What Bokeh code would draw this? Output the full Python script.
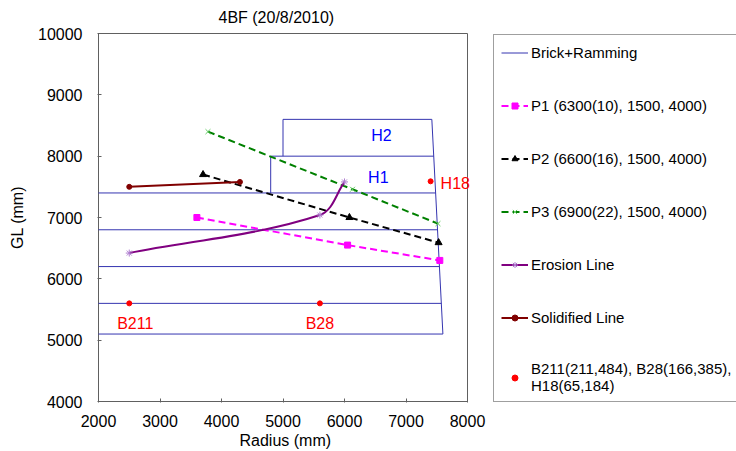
import math
from bokeh.plotting import figure
from bokeh.models import (Legend, LegendItem, Label, Range1d, FixedTicker,
                          NumeralTickFormatter, ColumnDataSource, Title)
from bokeh.embed import file_html
from bokeh.resources import INLINE

# ---------------- data ----------------
x_lo, x_hi = 2000, 8000
y_lo, y_hi = 4000, 10000
x_ticks = [2000, 3000, 4000, 5000, 6000, 7000, 8000]
y_ticks = [4000, 5000, 6000, 7000, 8000, 9000, 10000]

# Brick + Ramming outline (polylines)
brick_xs = [[2000, 7600, 7420, 5000, 5000],
            [4800, 4800, 7451],
            [2000, 7482],
            [2000, 7513],
            [2000, 7543],
            [2000, 7574]]
brick_ys = [[5100, 5100, 8600, 8600, 8000],
            [7400, 8000, 8000],
            [7400, 7400],
            [6800, 6800],
            [6200, 6200],
            [5600, 5600]]

p1_x = [3600, 6050, 7550]
p1_y = [7000, 6550, 6300]
p2_x = [3700, 6080, 7530]
p2_y = [7700, 7000, 6590]
p3_x = [3780, 6130, 7520]
p3_y = [8400, 7460, 6900]
ero_x = [2500, 5600, 6000]
ero_y = [6420, 7040, 7580]
sol_x = [2500, 4300]
sol_y = [7500, 7580]
pt_x = [2500, 5600, 7400]
pt_y = [5600, 5600, 7590]
pt_names = ["B211", "B28", "H18"]
zone_names = ["H1", "H2"]
zone_x = [6550, 6600]
zone_y = [7650, 8330]

labels = ["Brick+Ramming",
          "P1 (6300(10), 1500, 4000)",
          "P2 (6600(16), 1500, 4000)",
          "P3 (6900(22), 1500, 4000)",
          "Erosion Line",
          "Solidified Line",
          "B211(211,484), B28(166,385),\nH18(65,184)"]

FONT = "Liberation Sans"
BRICK = "#3535b0"
FRAME_COLOR = "#606060"

# layout (pixels)
W, H = 736, 451
BORDER_L, BORDER_T, BORDER_B = 97, 32, 49
BOX_W, BOX_H = 369, 368          # size of the data box in pixels
FRAME_W, FRAME_H = W - BORDER_L, H - BORDER_T - BORDER_B

mx = (x_hi - x_lo) / BOX_W       # mm per px
my = (y_hi - y_lo) / BOX_H
x_start = x_lo - mx
y_start = y_lo - my

p = figure(width=W, height=H, frame_width=FRAME_W, frame_height=FRAME_H,
           min_border_left=BORDER_L, min_border_right=0,
           min_border_top=BORDER_T, min_border_bottom=BORDER_B,
           x_range=Range1d(x_start, x_start + FRAME_W * mx),
           y_range=Range1d(y_start, y_start + FRAME_H * my),
           output_backend="svg", toolbar_location=None)
p.background_fill_color = "white"
p.border_fill_color = "white"
p.outline_line_color = None
p.xgrid.visible = False
p.ygrid.visible = False

title = Title(text="4BF (20/8/2010)", align="left", offset=121, standoff=13,
              text_font=FONT, text_font_size="16px", text_font_style="normal",
              text_color="black")
p.add_layout(title, "above")

for ax, ticks in ((p.xaxis[0], x_ticks), (p.yaxis[0], y_ticks)):
    ax.ticker = FixedTicker(ticks=ticks)
    ax.formatter = NumeralTickFormatter(format="0")
    ax.major_label_text_font = FONT
    ax.major_label_text_font_size = "16px"
    ax.major_label_text_color = "black"
    ax.major_tick_in = 4
    ax.major_tick_out = 0
    ax.minor_tick_line_color = None
    ax.axis_line_color = None
    ax.major_tick_line_color = FRAME_COLOR
p.xaxis[0].major_label_standoff = 12
p.yaxis[0].major_label_standoff = 15
p.yaxis[0].axis_label = "GL (mm)"
p.yaxis[0].axis_label_text_font = FONT
p.yaxis[0].axis_label_text_font_size = "16px"
p.yaxis[0].axis_label_text_font_style = "normal"
p.yaxis[0].axis_label_text_color = "black"
p.yaxis[0].axis_label_standoff = 9

xlabel = Title(text="Radius (mm)", align="left", offset=142, standoff=1,
               text_font=FONT, text_font_size="16px", text_font_style="normal",
               text_color="black")
p.add_layout(xlabel, "below")

# plot box
p.quad(left=[x_lo], right=[x_hi], bottom=[y_lo], top=[y_hi],
       fill_color=None, line_color=FRAME_COLOR, line_width=1)

# Brick + Ramming
r_brick = p.multi_line(xs=brick_xs, ys=brick_ys, line_color=BRICK, line_width=1)

# P1, P2, P3
dash = "7 4"
r_p1l = p.line(p1_x, p1_y, line_color="#ff00ff", line_width=2, line_dash=dash)
r_p1m = p.scatter(p1_x, p1_y, marker="square", size=6, fill_color="#ff00ff", line_color="#ff00ff")
r_p2l = p.line(p2_x, p2_y, line_color="black", line_width=2, line_dash=dash)
r_p2m = p.scatter(p2_x, p2_y, marker="triangle", size=7, fill_color="black", line_color="black")
r_p3l = p.line(p3_x, p3_y, line_color="#008000", line_width=2, line_dash=dash)
r_p3m = p.scatter(p3_x, p3_y, marker="x", size=7, line_color="#66cc66", line_width=1)

# Erosion line, drawn as a smoothed curve through its points
def bezier_segments(xs, ys):
    n = len(xs)
    tx, ty = [], []
    for i in range(n):
        a, b = max(i - 1, 0), min(i + 1, n - 1)
        dx, dy = xs[b] - xs[a], ys[b] - ys[a]
        L = math.hypot(dx, dy)
        tx.append(dx / L)
        ty.append(dy / L)
    seg = dict(x0=[], y0=[], x1=[], y1=[], cx0=[], cy0=[], cx1=[], cy1=[])
    for i in range(n - 1):
        d = math.hypot(xs[i + 1] - xs[i], ys[i + 1] - ys[i]) / 3.0
        seg["x0"].append(xs[i]); seg["y0"].append(ys[i])
        seg["x1"].append(xs[i + 1]); seg["y1"].append(ys[i + 1])
        seg["cx0"].append(xs[i] + tx[i] * d); seg["cy0"].append(ys[i] + ty[i] * d)
        seg["cx1"].append(xs[i + 1] - tx[i + 1] * d); seg["cy1"].append(ys[i + 1] - ty[i + 1] * d)
    return seg

r_erol = p.bezier(x0="x0", y0="y0", x1="x1", y1="y1", cx0="cx0", cy0="cy0", cx1="cx1", cy1="cy1",
                  source=ColumnDataSource(bezier_segments(ero_x, ero_y)),
                  line_color="#800080", line_width=2)
r_erom = p.scatter(ero_x, ero_y, marker="asterisk", size=7, line_color="#b07fd0", line_width=1)

# Solidified line
r_soll = p.line(sol_x, sol_y, line_color="#800000", line_width=2)
r_solm = p.scatter(sol_x, sol_y, marker="circle", size=5, fill_color="#800000", line_color="#800000")

# Points
r_pts = p.scatter(pt_x, pt_y, marker="circle", size=5, fill_color="#ff0000", line_color="#ff0000")

pt_offsets = [(6, -20, "center"), (0, -20, "center"), (10, -2, "left")]
for name, x, y, (dx, dy, al) in zip(pt_names, pt_x, pt_y, pt_offsets):
    p.add_layout(Label(x=x, y=y, x_offset=dx, y_offset=dy, text=name, text_color="#ff0000",
                       text_font=FONT, text_font_size="16px", text_align=al,
                       text_baseline="middle"))
for name, x, y in zip(zone_names, zone_x, zone_y):
    p.add_layout(Label(x=x, y=y, text=name, text_color="#0000ff",
                       text_font=FONT, text_font_size="16px", text_align="center",
                       text_baseline="middle"))

items = [LegendItem(label=labels[0], renderers=[r_brick]),
         LegendItem(label=labels[1], renderers=[r_p1l, r_p1m]),
         LegendItem(label=labels[2], renderers=[r_p2l, r_p2m]),
         LegendItem(label=labels[3], renderers=[r_p3l, r_p3m]),
         LegendItem(label=labels[4], renderers=[r_erol, r_erom]),
         LegendItem(label=labels[5], renderers=[r_soll, r_solm]),
         LegendItem(label=labels[6], renderers=[r_pts])]

legend = Legend(items=items, location=(396, 0), margin=0, padding=7, spacing=33,
                glyph_width=27, glyph_height=15, label_height=20,
                label_standoff=3,
                label_text_font=FONT, label_text_font_size="15px", label_text_color="black",
                border_line_color="#404040", border_line_width=1,
                background_fill_color="white", background_fill_alpha=1.0)
p.add_layout(legend, "center")

open("out.html", "w").write(file_html(p, INLINE))
